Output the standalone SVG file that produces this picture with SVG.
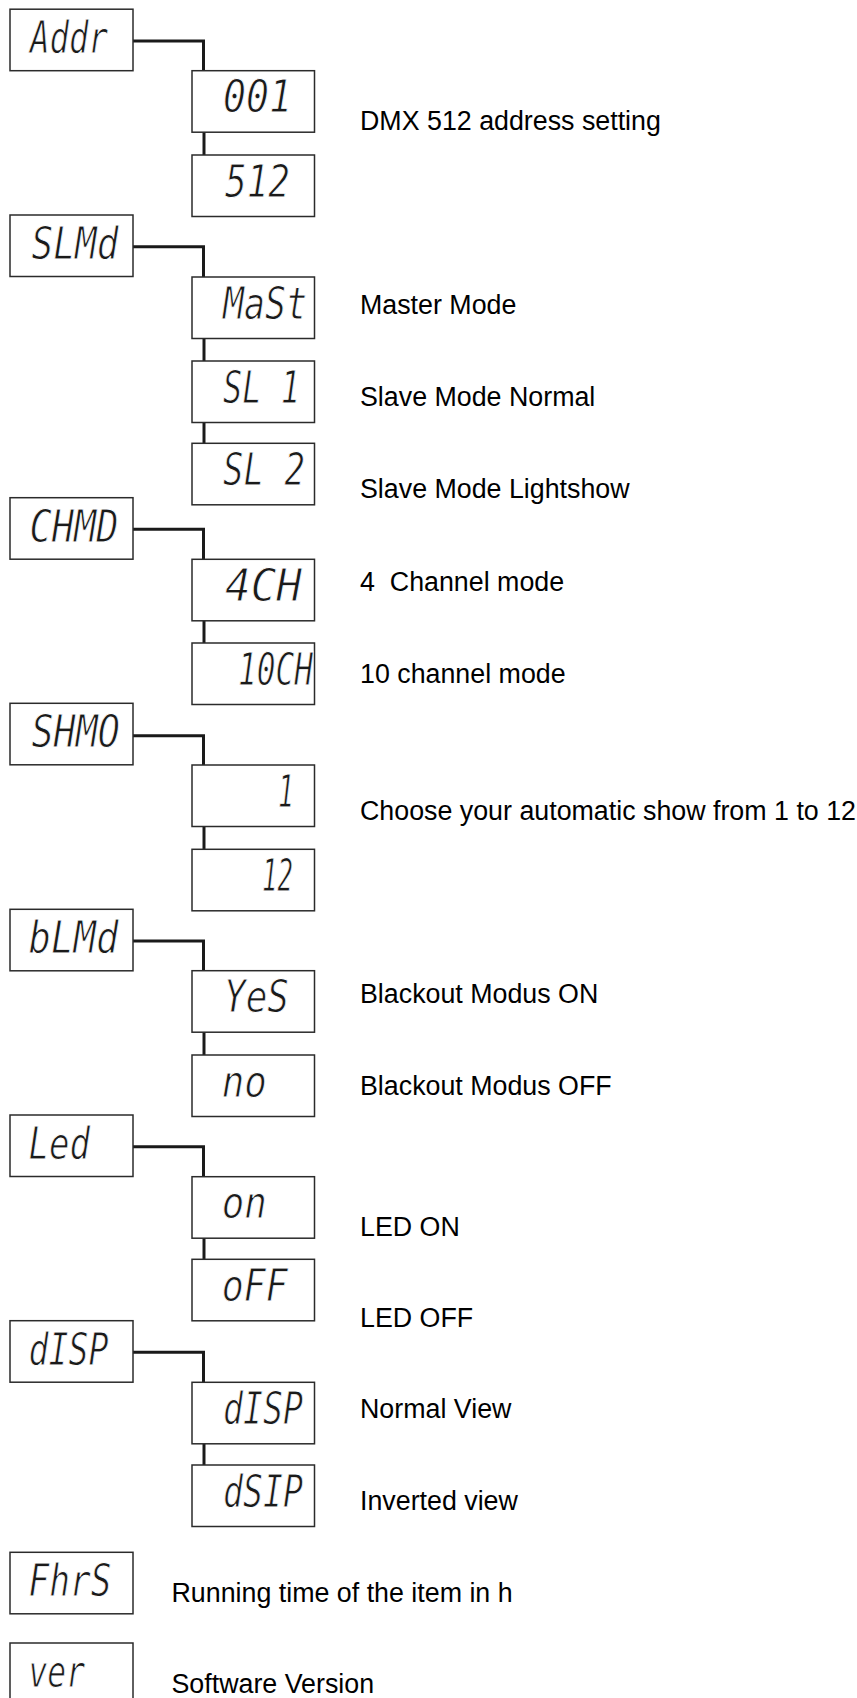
<svg xmlns="http://www.w3.org/2000/svg" width="857" height="1698" viewBox="0 0 857 1698">
<style>
.box{fill:#fff;stroke:#2b2b2b;stroke-width:1.5}
.disp{font-family:"DejaVu Sans Mono",monospace;font-style:oblique;font-size:45px;fill:#1a1a1a;stroke:#fff;stroke-width:0.9px}
.lbl{font-family:"Liberation Sans",Arial,sans-serif;font-size:26.8px;fill:#000;white-space:pre}
.con{fill:none;stroke:#1a1a1a;stroke-width:3}
</style>
<rect width="857" height="1698" fill="#fff"/>
<g id="connectors" class="con">
<path d="M133,41 H203.5 V70.7"/>
<path d="M133,246.7 H203.5 V277"/>
<path d="M133,529.3 H203.5 V559.3"/>
<path d="M133,735.7 H203.5 V765"/>
<path d="M133,941 H203.5 V970.7"/>
<path d="M133,1146.7 H203.5 V1176.7"/>
<path d="M133,1352.3 H203.5 V1382.3"/>
<path d="M204,132.2 V155"/>
<path d="M204,338.5 V361"/>
<path d="M204,422.5 V443.3"/>
<path d="M204,620.8 V643"/>
<path d="M204,826.5 V849.3"/>
<path d="M204,1032.2 V1055"/>
<path d="M204,1238.2 V1259.3"/>
<path d="M204,1443.8 V1465"/>
</g>
<g id="n-addr"><rect class="box" x="10" y="9.2" width="123" height="61.5"/><text class="disp" x="30" y="53" textLength="78" lengthAdjust="spacingAndGlyphs">Addr</text></g>
<g id="n-001"><rect class="box" x="192" y="70.7" width="122.5" height="61.5"/><text class="disp" x="223" y="112.2" textLength="69" lengthAdjust="spacingAndGlyphs">001</text></g>
<g id="n-512"><rect class="box" x="192" y="155" width="122.5" height="61.5"/><text class="disp" x="225" y="196.5" textLength="65" lengthAdjust="spacingAndGlyphs">512</text></g>
<g id="n-slmd"><rect class="box" x="10" y="215" width="123" height="61.5"/><text class="disp" x="31.5" y="259" textLength="87" lengthAdjust="spacingAndGlyphs">SLMd</text></g>
<g id="n-mast"><rect class="box" x="192" y="277" width="122.5" height="61.5"/><text class="disp" x="223" y="318.5" textLength="84" lengthAdjust="spacingAndGlyphs">MaSt</text></g>
<g id="n-sl1"><rect class="box" x="192" y="361" width="122.5" height="61.5"/><text class="disp" x="223" y="402.5" textLength="77" lengthAdjust="spacingAndGlyphs">SL 1</text></g>
<g id="n-sl2"><rect class="box" x="192" y="443.3" width="122.5" height="61.5"/><text class="disp" x="223" y="484.8" textLength="82" lengthAdjust="spacingAndGlyphs">SL 2</text></g>
<g id="n-chmd"><rect class="box" x="10" y="497.7" width="123" height="61.5"/><text class="disp" x="29.5" y="541.7" textLength="89" lengthAdjust="spacingAndGlyphs">CHMD</text></g>
<g id="n-4ch"><rect class="box" x="192" y="559.3" width="122.5" height="61.5"/><text class="disp" x="225" y="600.8" textLength="77" lengthAdjust="spacingAndGlyphs">4CH</text></g>
<g id="n-10ch"><rect class="box" x="192" y="643" width="122.5" height="61.5"/><text class="disp" x="238" y="684.5" textLength="75" lengthAdjust="spacingAndGlyphs">10CH</text></g>
<g id="n-shmo"><rect class="box" x="10" y="703.3" width="123" height="61.5"/><text class="disp" x="31.5" y="747.3" textLength="88.5" lengthAdjust="spacingAndGlyphs">SHMO</text></g>
<g id="n-1"><rect class="box" x="192" y="765" width="122.5" height="61.5"/><text class="disp" x="278" y="806.5" textLength="16" lengthAdjust="spacingAndGlyphs">1</text></g>
<g id="n-12"><rect class="box" x="192" y="849.3" width="122.5" height="61.5"/><text class="disp" x="262" y="890.8" textLength="31" lengthAdjust="spacingAndGlyphs">12</text></g>
<g id="n-blmd"><rect class="box" x="10" y="909.3" width="123" height="61.5"/><text class="disp" x="28.5" y="953.3" textLength="90" lengthAdjust="spacingAndGlyphs">bLMd</text></g>
<g id="n-yes"><rect class="box" x="192" y="970.7" width="122.5" height="61.5"/><text class="disp" x="224" y="1012.2" textLength="65" lengthAdjust="spacingAndGlyphs">YeS</text></g>
<g id="n-no"><rect class="box" x="192" y="1055" width="122.5" height="61.5"/><text class="disp" x="221.7" y="1096.5" textLength="45" lengthAdjust="spacingAndGlyphs">no</text></g>
<g id="n-led"><rect class="box" x="10" y="1115" width="123" height="61.5"/><text class="disp" x="28.5" y="1159" textLength="61.5" lengthAdjust="spacingAndGlyphs">Led</text></g>
<g id="n-on"><rect class="box" x="192" y="1176.7" width="122.5" height="61.5"/><text class="disp" x="221.7" y="1218.2" textLength="45" lengthAdjust="spacingAndGlyphs">on</text></g>
<g id="n-off"><rect class="box" x="192" y="1259.3" width="122.5" height="61.5"/><text class="disp" x="221.7" y="1300.8" textLength="66" lengthAdjust="spacingAndGlyphs">oFF</text></g>
<g id="n-disp"><rect class="box" x="10" y="1320.7" width="123" height="61.5"/><text class="disp" x="28.5" y="1364.7" textLength="80" lengthAdjust="spacingAndGlyphs">dISP</text></g>
<g id="n-disp2"><rect class="box" x="192" y="1382.3" width="122.5" height="61.5"/><text class="disp" x="223" y="1423.8" textLength="80" lengthAdjust="spacingAndGlyphs">dISP</text></g>
<g id="n-dsip"><rect class="box" x="192" y="1465" width="122.5" height="61.5"/><text class="disp" x="223" y="1506.5" textLength="80" lengthAdjust="spacingAndGlyphs">dSIP</text></g>
<g id="n-fhrs"><rect class="box" x="10" y="1552.3" width="123" height="61.5"/><text class="disp" x="28.5" y="1596.3" textLength="83" lengthAdjust="spacingAndGlyphs">FhrS</text></g>
<g id="n-ver"><rect class="box" x="10" y="1643" width="123" height="61.5"/><text class="disp" x="28.5" y="1687" textLength="56.5" lengthAdjust="spacingAndGlyphs">ver</text></g>
<g id="labels">
<text class="lbl" x="360" y="130">DMX 512 address setting</text>
<text class="lbl" x="360" y="313.5">Master Mode</text>
<text class="lbl" x="360" y="406">Slave Mode Normal</text>
<text class="lbl" x="360" y="498">Slave Mode Lightshow</text>
<text class="lbl" x="360" y="590.7">4  Channel mode</text>
<text class="lbl" x="360" y="682.7">10 channel mode</text>
<text class="lbl" x="360" y="820">Choose your automatic show from 1 to 12</text>
<text class="lbl" x="360" y="1003">Blackout Modus ON</text>
<text class="lbl" x="360" y="1095">Blackout Modus OFF</text>
<text class="lbl" x="360" y="1236">LED ON</text>
<text class="lbl" x="360" y="1327">LED OFF</text>
<text class="lbl" x="360" y="1418">Normal View</text>
<text class="lbl" x="360" y="1510">Inverted view</text>
<text class="lbl" x="171.5" y="1601.7">Running time of the item in h</text>
<text class="lbl" x="171.5" y="1693">Software Version</text>
</g>
</svg>
